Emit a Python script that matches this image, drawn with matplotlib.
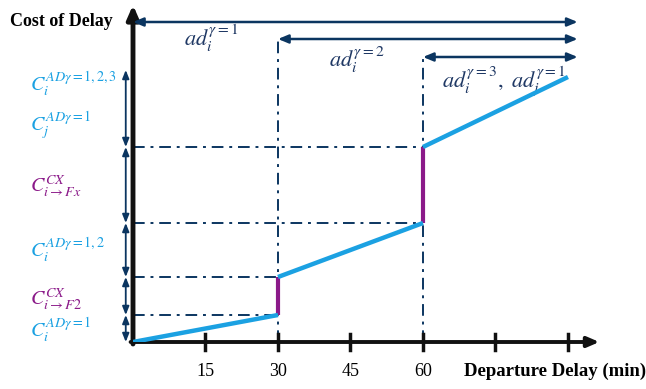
import matplotlib.pyplot as plt

plt.rcParams['mathtext.fontset'] = 'stix'

# piecewise cost of delay (cost in arbitrary units)
seg_x = [[0, 30], [30, 60], [60, 90]]
seg_y = [[0, 27], [65, 119], [195, 265]]
jump_x = [30, 60]
jump_y = [[27, 65], [119, 195]]
levels = [0, 27, 65, 119, 195, 272]
xticks = [15, 30, 45, 60, 75, 90]
xtick_labels = ['15', '30', '45', '60', '', '']
span_starts = [0, 30, 60]
span_y = [320, 303, 285]
span_end = 92
span_labels = [r'$ad_i^{\gamma=1}$', r'$ad_i^{\gamma=2}$',
               r'$ad_i^{\gamma=3},\ ad_j^{\gamma=1}$']
left_labels = [r'$C_i^{AD\gamma=1}$', r'$C_{i\rightarrow F2}^{CX}$',
               r'$C_i^{AD\gamma=1,2}$', r'$C_{i\rightarrow Fx}^{CX}$',
               r'$C_i^{AD\gamma=1,2,3}$' + '\n' + r'$C_j^{AD\gamma=1}$']

blue = '#1BA1E2'
purple = '#8B1A89'
navy = '#0B3560'

fig = plt.figure(figsize=(6.46, 3.89), dpi=100)
ax = fig.add_axes([133 / 646, 47 / 389, 464 / 646, 337 / 389])
ax.set_xlim(0, 464 / 4.833)
ax.set_ylim(0, 337)
ax.axis('off')

# guide lines
dd = (0, (6, 3, 1.5, 3))
ax.plot([0, 30], [27, 27], color=navy, lw=1.4, ls=dd)
ax.plot([0, 30], [65, 65], color=navy, lw=1.4, ls=dd)
ax.plot([0, 60], [119, 119], color=navy, lw=1.4, ls=dd)
ax.plot([0, 60], [195, 195], color=navy, lw=1.4, ls=dd)
ax.plot([30, 30], [0, span_y[1]], color=navy, lw=1.4, ls=dd)
ax.plot([60, 60], [0, span_y[2]], color=navy, lw=1.4, ls=dd)

# axes
ax.annotate('', xy=(0, 337), xytext=(0, -2), annotation_clip=False,
            arrowprops=dict(arrowstyle='-|>,head_width=0.35,head_length=0.8',
                            color='#111', lw=3.5, shrinkA=0, shrinkB=0))
ax.annotate('', xy=(96.5, 0), xytext=(-0.5, 0), annotation_clip=False,
            arrowprops=dict(arrowstyle='-|>,head_width=0.3,head_length=0.7',
                            color='#111', lw=2.8, shrinkA=0, shrinkB=0))
for t, lab in zip(xticks, xtick_labels):
    ax.plot([t, t], [-8, 8], color='#111', lw=2.5, clip_on=False)
    ax.text(t, -29, lab, ha='center', va='center', fontsize=13,
            family='Liberation Serif')

# cost curve
for xs, ys in zip(seg_x, seg_y):
    ax.plot(xs, ys, color=blue, lw=3.2, solid_capstyle='butt', zorder=4)
for xj, yj in zip(jump_x, jump_y):
    ax.plot([xj, xj], yj, color=purple, lw=3, solid_capstyle='butt', zorder=3)

# span arrows
for x0, y in zip(span_starts, span_y):
    ax.annotate('', xy=(span_end, y), xytext=(x0, y), annotation_clip=False,
                arrowprops=dict(arrowstyle='<|-|>,head_width=0.25,head_length=0.6',
                                color=navy, lw=1.8, shrinkA=0, shrinkB=0))
ax.text(10.5, 304, span_labels[0], ha='left', va='center', fontsize=16, color='#1F3864')
ax.text(40.5, 282, span_labels[1], ha='left', va='center', fontsize=16, color='#1F3864')
ax.text(64, 261, span_labels[2], ha='left', va='center', fontsize=16, color='#1F3864')

# left brackets
for lo, hi in zip(levels[:-1], levels[1:]):
    ax.annotate('', xy=(-1.5, hi), xytext=(-1.5, lo), annotation_clip=False,
                arrowprops=dict(arrowstyle='<|-|>,head_width=0.2,head_length=0.5',
                                color=navy, lw=1.3, shrinkA=0, shrinkB=0))
label_y = [12, 43, 92, 156, 236]
label_c = [blue, purple, blue, purple, blue]
for y, lab, c in zip(label_y, left_labels, label_c):
    ax.text(-21.3, y, lab, ha='left', va='center', fontsize=14.5, color=c,
            linespacing=1.5)

ax.text(-25.5, 337 - 17, 'Cost of Delay', ha='left', va='center', fontsize=13,
        fontweight='bold', family='Liberation Serif')
ax.text(68.5, -29, 'Departure Delay (min)', ha='left', va='center', fontsize=13.5,
        fontweight='bold', family='Liberation Serif')

fig.savefig('out.png', dpi=100)
